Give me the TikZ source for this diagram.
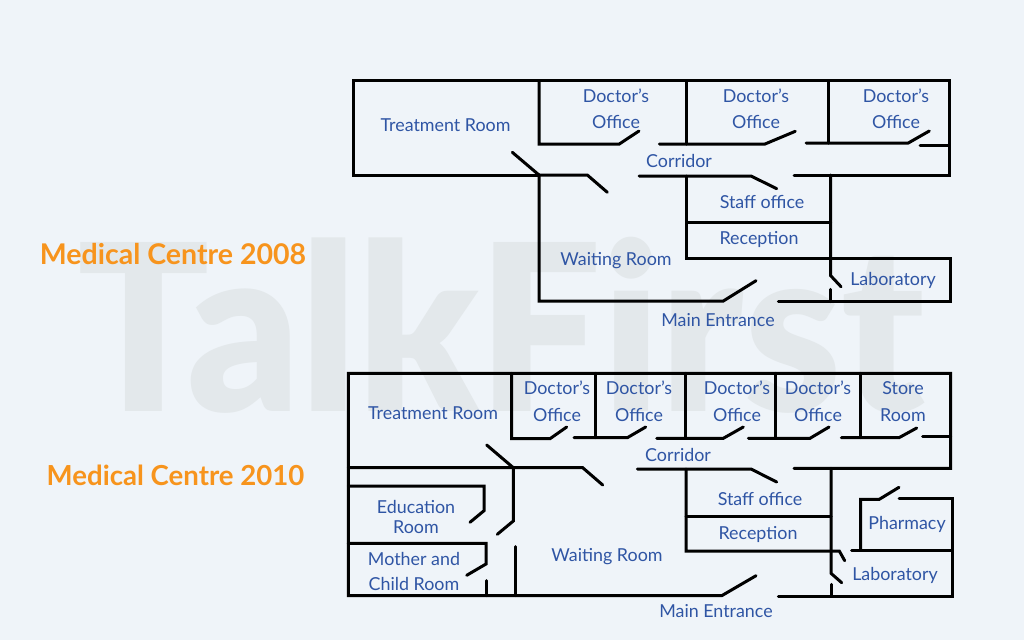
\documentclass[tikz,border=0pt]{standalone}
\usepackage{xcolor}
\usepackage{fontspec}
\setmainfont{Lato}
\newfontfamily\markfont{Lato Black}
\usetikzlibrary{positioning}
\definecolor{pagebg}{HTML}{EFF4F9}
\definecolor{markgray}{HTML}{E3E8EB}
\definecolor{roomblue}{HTML}{2F55A4}
\definecolor{titleorange}{HTML}{F7941D}
\tikzset{
    wall/.style={line width=2.25pt, black, line cap=round, line join=miter},
    room/.style={text=roomblue, font=\fontsize{13.4}{19.5}\selectfont, align=center, inner sep=0pt},
    plantitle/.style={text=titleorange, font=\fontsize{21.4}{25}\selectfont\bfseries, inner sep=0pt},
    watermark/.style={text=markgray, font=\fontsize{174}{174}\markfont, inner sep=0pt}
}
\begin{document}
\begin{tikzpicture}[x=0.75pt, y=-0.75pt]
    % Page
    \fill[pagebg] (0,0) rectangle (1024,640);
    \useasboundingbox (0,0) rectangle (1024,640);
    \node[watermark] (mark) at (501,325) {\scalebox{0.94}[1]{TalkFirst}};

    % Titles
    \node[plantitle] (title2008) at (173,254) {Medical Centre 2008};
    \node[plantitle, font=\fontsize{20.7}{25}\selectfont\bfseries] (title2010) at (175.5,475) {Medical Centre 2010};

    % 2008 outer walls
    \draw[wall] (539,175) -- (353.3,175) -- (353.3,80.7) -- (949,80.7) -- (949,175) -- (794,175);
    \draw[wall] (539,175) -- (587.3,175) -- (607.3,192.3);
    \draw[wall] (539,175) -- (539,301) -- (723.3,301) -- (756,280.7);
    \draw[wall] (778.3,301.7) -- (950,301.7) -- (950,258) -- (686.7,258) -- (686.7,176);
    \draw[wall] (512.3,152.3) -- (539,175);

    % 2008 offices
    \draw[wall] (539,80.7) -- (539,144) -- (619.3,144) -- (639,131);
    \draw[wall] (686.7,80.7) -- (686.7,144);
    \draw[wall] (659.3,144) -- (765,144) -- (795.3,131.3);
    \draw[wall] (828.3,80.7) -- (828.3,143);
    \draw[wall] (806,143) -- (908.3,143) -- (929.3,131);
    \draw[wall] (920,145.3) -- (949,145.3);

    % 2008 staff rooms and laboratory
    \draw[wall] (639,176) -- (751,176) -- (776.7,188.7);
    \draw[wall] (687,222.7) -- (830.7,222.7);
    \draw[wall] (830.7,175) -- (830.7,275.7) -- (841,286.7);
    \draw[wall] (830.7,289.3) -- (830.7,301.7);

    % 2010 outer walls
    \draw[wall] (794,468.3) -- (950.7,468.3) -- (950.7,373.3) -- (348.3,373.3) -- (348.3,595.7) -- (721.7,595.7) -- (756,575.7);
    \draw[wall] (778.3,596.3) -- (952.3,596.3) -- (952.3,498.3) -- (899,498.3);

    % 2010 offices
    \draw[wall] (511.7,373.3) -- (511.7,438.7) -- (550,438.7) -- (566.7,427);
    \draw[wall] (595,373.3) -- (595,437.7);
    \draw[wall] (574,437.7) -- (627.3,437.7) -- (645.7,427);
    \draw[wall] (685.7,373.3) -- (685.7,438.3);
    \draw[wall] (656.7,438.3) -- (723.3,438.3) -- (743.3,427);
    \draw[wall] (775.7,373.3) -- (775.7,438.3);
    \draw[wall] (748.3,438.3) -- (810,438.3) -- (829,427);
    \draw[wall] (860.7,373.3) -- (860.7,437.7);
    \draw[wall] (841.3,437.7) -- (899,437.7) -- (916.7,428);
    \draw[wall] (922.7,436.7) -- (950.7,436.7);

    % 2010 left rooms
    \draw[wall] (348.3,467.7) -- (582.7,467.7) -- (602.7,485);
    \draw[wall] (486.7,445) -- (513.3,467.7) -- (513.3,521) -- (497.3,534.3);
    \draw[wall] (348.3,486) -- (484,486) -- (484,510.7) -- (470,522.3);
    \draw[wall] (348.3,543.3) -- (486,543.3) -- (486,564) -- (466.7,575.3);
    \draw[wall] (486,580.7) -- (486,595.7);
    \draw[wall] (515,546.7) -- (515,595.7);

    % 2010 staff rooms, pharmacy and laboratory
    \draw[wall] (637.3,469) -- (751,469) -- (776.7,482);
    \draw[wall] (686,469) -- (686,551) -- (839.3,551) -- (844.7,560.7);
    \draw[wall] (686,516) -- (831,516);
    \draw[wall] (831,468.3) -- (831,573.3) -- (841.7,582.7);
    \draw[wall] (831,584.3) -- (831,596.3);
    \draw[wall] (899,487.3) -- (879.3,499.3) -- (860.7,499.3) -- (860.7,550);
    \draw[wall] (851.7,550) -- (952.3,550);

    % 2008 labels
    \node[room] (treat08) at (445.5,125.5) {Treatment Room};
    \node[room] (office08a) at (616,109) {Doctor’s\\Office};
    \node[room] (office08b) at (756,109) {Doctor’s\\Office};
    \node[room] (office08c) at (896,109) {Doctor’s\\Office};
    \node[room] (corridor08) at (679,161) {Corridor};
    \node[room] (staff08) at (762,202) {Staff office};
    \node[room] (recep08) at (759,239) {Reception};
    \node[room] (wait08) at (616,261) {Waiting Room};
    \node[room] (lab08) at (893,280) {Laboratory};
    \node[room] (entry08) at (718,320) {Main Entrance};

    % 2010 labels
    \node[room] (treat10) at (433,413.5) {Treatment Room};
    \node[room] (office10a) at (557,401.5) {Doctor’s\\[1pt]Office};
    \node[room] (office10b) at (639,401.5) {Doctor’s\\[1pt]Office};
    \node[room] (office10c) at (737,401.5) {Doctor’s\\[1pt]Office};
    \node[room] (office10d) at (818,401.5) {Doctor’s\\[1pt]Office};
    \node[room] (store10) at (903,401.5) {Store\\[1pt]Room};
    \node[room] (corridor10) at (678,455) {Corridor};
    \node[room] (edu10) at (416,517) {Education\\[-4.5pt]Room};
    \node[room] (mother10) at (414,571.5) {Mother and\\[-1pt]Child Room};
    \node[room] (wait10) at (607,557) {Waiting Room};
    \node[room] (staff10) at (760,499) {Staff office};
    \node[room] (recep10) at (758,534) {Reception};
    \node[room] (pharm10) at (907,524) {Pharmacy};
    \node[room] (lab10) at (895,575) {Laboratory};
    \node[room] (entry10) at (716,611) {Main Entrance};
\end{tikzpicture}
\end{document}
